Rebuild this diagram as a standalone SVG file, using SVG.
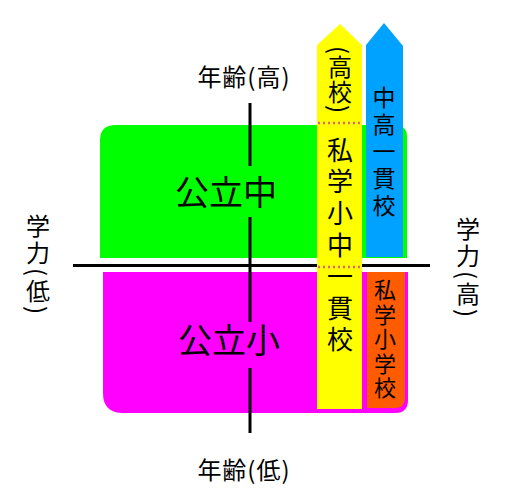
<svg xmlns="http://www.w3.org/2000/svg" width="511" height="503" viewBox="0 0 511 503">
<style>
text{font-family:"Noto Sans CJK JP","Noto Sans CJK SC",sans-serif;fill:#000}
.v{writing-mode:vertical-rl}
.ax{stroke:#000;stroke-width:3;fill:none}
.dot{stroke:#e8646e;stroke-width:2.5;stroke-dasharray:2 3;fill:none}
</style>
<rect width="511" height="503" fill="#fff"/>
<g id="public-middle">
<path d="M100,140 Q100,125 116,125 L395,125 Q407,125 407,137 L407,258 L100,258 Z" fill="#00ff00"/>
</g>
<g id="public-elementary">
<path d="M103,272 L408,272 L408,400 Q408,413 395,413 L123,413 Q103,413 103,393 Z" fill="#ff00ff"/>
</g>
<g id="axes">
<line class="ax" x1="73" y1="265.5" x2="430" y2="265.5"/>
<line class="ax" x1="250" y1="103" x2="250" y2="166"/>
<line class="ax" x1="250" y1="217" x2="250" y2="322"/>
<line class="ax" x1="250" y1="368" x2="250" y2="433"/>
</g>
<g id="private-integrated">
<polygon points="317,45 340,24 362,45 362,409 317,409" fill="#ffff00"/>
<line class="dot" x1="318" y1="123" x2="362" y2="123"/>
<line class="dot" x1="318" y1="267" x2="362" y2="267"/>
<text class="v" x="340" y="46" font-size="24" letter-spacing="1">(高校)</text>
<text class="v" x="340" y="137" font-size="26" letter-spacing="5.6">私学小中一貫校</text>
</g>
<g id="integrated-middle-high">
<polygon points="366,45 384,23 403,46 403,257 366,257" fill="#00a2ff"/>
<text class="v" x="384" y="86" font-size="23" letter-spacing="4">中高一貫校</text>
</g>
<g id="private-elementary">
<path d="M367,272 L405,272 L405,398 Q405,408 395,408 L367,408 Z" fill="#ff5b00"/>
<text class="v" x="385" y="279" font-size="22" letter-spacing="2.5">私学小学校</text>
</g>
<g id="labels">
<text x="226" y="205" font-size="34" text-anchor="middle">公立中</text>
<text x="229" y="353" font-size="34" text-anchor="middle">公立小</text>
<text x="244" y="86" font-size="24" letter-spacing="1" text-anchor="middle">年齢(高)</text>
<text x="244" y="479" font-size="24" letter-spacing="1" text-anchor="middle">年齢(低)</text>
<text class="v" x="38" y="214" font-size="24" letter-spacing="3">学力(低)</text>
<text class="v" x="468" y="217" font-size="24" letter-spacing="3">学力(高)</text>
</g>
</svg>
